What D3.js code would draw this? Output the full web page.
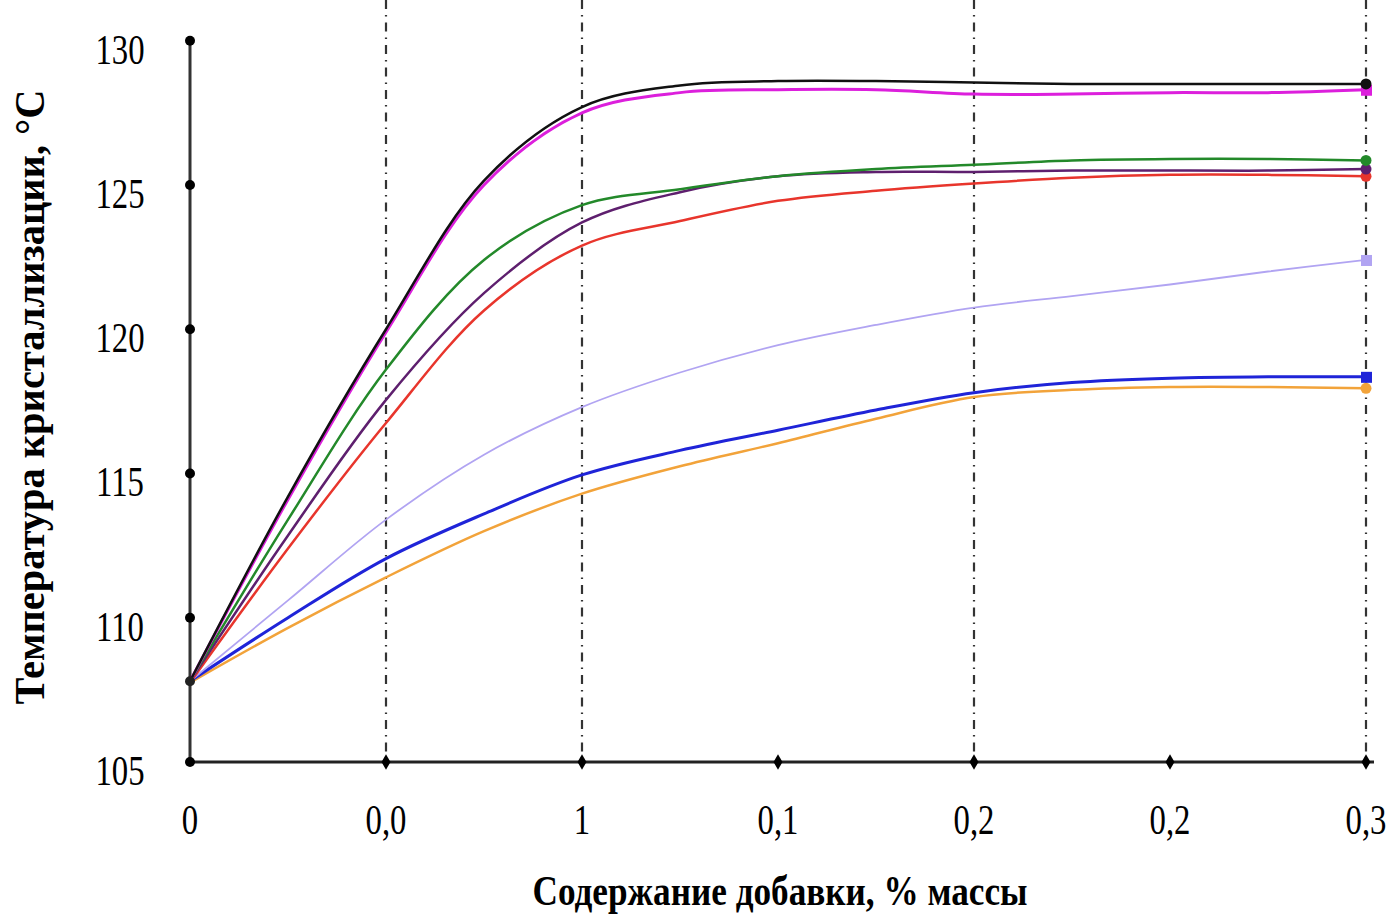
<!DOCTYPE html>
<html>
<head>
<meta charset="utf-8">
<script src="https://cdn.jsdelivr.net/npm/d3@7"></script>
<style>
  body { margin: 0; background: #fff; }
  text { font-family: "Liberation Serif", "Times New Roman", serif; fill: #000; }
</style>
</head>
<body>
<svg id="chart" width="1389" height="915"></svg>
<script>
// additive content, % mass (data points)
var additive = [0, 0.025, 0.05, 0.075, 0.1, 0.125, 0.15, 0.175, 0.2, 0.225, 0.25, 0.275, 0.3];
// tick positions and their labels as printed
var tickValues = [0, 0.05, 0.1, 0.15, 0.2, 0.25, 0.3];
var tickLabels = ["0", "0,0", "1", "0,1", "0,2", "0,2", "0,3"];
var gridValues = [0.05, 0.1, 0.2, 0.3];
var yTicks = [105, 110, 115, 120, 125, 130];

var seriesBlack    = [107.8, 114.2, 120.0, 125.15, 127.7, 128.45, 128.6, 128.6, 128.55, 128.5, 128.5, 128.5, 128.5];
var seriesMagenta  = [107.8, 114.1, 119.9, 125.0, 127.5, 128.2, 128.3, 128.3, 128.15, 128.15, 128.2, 128.2, 128.3];
var seriesGreen    = [107.8, 113.4, 118.6, 122.4, 124.3, 124.85, 125.3, 125.55, 125.7, 125.85, 125.9, 125.9, 125.85];
var seriesPurple   = [107.8, 112.85, 117.55, 121.25, 123.7, 124.75, 125.3, 125.45, 125.45, 125.5, 125.5, 125.5, 125.55];
var seriesRed      = [107.75, 112.4, 116.75, 120.65, 122.9, 123.75, 124.45, 124.8, 125.05, 125.25, 125.35, 125.35, 125.3];
var seriesLavender = [107.8, 110.6, 113.4, 115.65, 117.3, 118.5, 119.45, 120.15, 120.75, 121.15, 121.55, 122.0, 122.4];
var seriesBlue     = [107.8, 110.0, 112.05, 113.6, 114.95, 115.8, 116.5, 117.2, 117.8, 118.15, 118.3, 118.35, 118.35];
var seriesOrange   = [107.75, 109.65, 111.4, 113.0, 114.3, 115.25, 116.05, 116.9, 117.65, 117.9, 118.0, 118.0, 117.95];

var series = [
  { values: seriesOrange,   color: "#f2a33a", width: 2.5, marker: "circle" },
  { values: seriesBlue,     color: "#1f24d8", width: 3,   marker: "square" },
  { values: seriesLavender, color: "#b1a4f2", width: 1.8, marker: "square" },
  { values: seriesRed,      color: "#e8352c", width: 2.5, marker: "circle" },
  { values: seriesPurple,   color: "#5e1f6e", width: 2.5, marker: "circle" },
  { values: seriesGreen,    color: "#23892a", width: 2.5, marker: "circle" },
  { values: seriesMagenta,  color: "#dc1fdc", width: 3,   marker: "square" },
  { values: seriesBlack,    color: "#111111", width: 2.5, marker: "circle" }
];

var svg = d3.select("#chart");

var x = d3.scaleLinear().domain([0, 0.3]).range([190, 1366]);
var y = d3.scaleLinear().domain([105, 130]).range([762, 40.7]);

// dash-dot vertical lines
svg.selectAll(".grid").data(gridValues).enter().append("line")
  .attr("class", "grid")
  .attr("x1", function(d) { return x(d); })
  .attr("x2", function(d) { return x(d); })
  .attr("y1", 0)
  .attr("y2", y(105))
  .attr("stroke", "#333")
  .attr("stroke-width", 2.2)
  .attr("stroke-dasharray", "9,6,1.5,6");

// axes lines
svg.append("line")
  .attr("x1", x(0)).attr("x2", x(0))
  .attr("y1", y(130)).attr("y2", y(105))
  .attr("stroke", "#333").attr("stroke-width", 3);
svg.append("line")
  .attr("x1", x(0)).attr("x2", x(0.3) + 8)
  .attr("y1", y(105)).attr("y2", y(105))
  .attr("stroke", "#222").attr("stroke-width", 3);

// y tick dots and labels
svg.selectAll(".ydot").data(yTicks).enter().append("circle")
  .attr("cx", x(0))
  .attr("cy", function(d) { return y(d); })
  .attr("r", 5)
  .attr("fill", "#000");

svg.selectAll(".ylab").data(yTicks).enter().append("text")
  .attr("transform", function(d) { return "translate(120," + (y(d) + 23) + ") scale(0.78,1)"; })
  .attr("text-anchor", "middle")
  .attr("font-size", 42)
  .text(function(d) { return d; });

// x tick diamonds and labels
var diamond = d3.symbol().type(d3.symbolDiamond).size(70);
svg.selectAll(".xdia").data(tickValues.slice(1)).enter().append("path")
  .attr("d", diamond)
  .attr("transform", function(d) { return "translate(" + x(d) + "," + y(105) + ")"; })
  .attr("fill", "#000");

svg.selectAll(".xlab").data(tickValues).enter().append("text")
  .attr("transform", function(d) { return "translate(" + x(d) + ",834) scale(0.78,1)"; })
  .attr("text-anchor", "middle")
  .attr("font-size", 42)
  .text(function(d, i) { return tickLabels[i]; });

// curves
var line = d3.line()
  .x(function(d, i) { return x(additive[i]); })
  .y(function(d) { return y(d); })
  .curve(d3.curveCatmullRom.alpha(0.5));

series.forEach(function(s) {
  svg.append("path")
    .attr("d", line(s.values))
    .attr("fill", "none")
    .attr("stroke", s.color)
    .attr("stroke-width", s.width);
  var last = s.values[s.values.length - 1];
  if (s.marker == "square") {
    svg.append("rect")
      .attr("x", x(0.3) - 5).attr("y", y(last) - 5)
      .attr("width", 11).attr("height", 11)
      .attr("fill", s.color);
  } else {
    svg.append("circle")
      .attr("cx", x(0.3)).attr("cy", y(last))
      .attr("r", 5.5)
      .attr("fill", s.color);
  }
});

// start point
svg.append("circle")
  .attr("cx", x(0)).attr("cy", y(107.8))
  .attr("r", 5)
  .attr("fill", "#222");

// titles
svg.append("text")
  .attr("x", 780).attr("y", 905)
  .attr("text-anchor", "middle")
  .attr("font-size", 42)
  .attr("font-weight", "bold")
  .attr("textLength", 495)
  .attr("lengthAdjust", "spacingAndGlyphs")
  .text("Содержание добавки, % массы");

svg.append("text")
  .attr("transform", "translate(44,397) rotate(-90)")
  .attr("text-anchor", "middle")
  .attr("font-size", 42)
  .attr("font-weight", "bold")
  .attr("textLength", 615)
  .attr("lengthAdjust", "spacingAndGlyphs")
  .text("Температура кристаллизации, °С");
</script>
</body>
</html>
